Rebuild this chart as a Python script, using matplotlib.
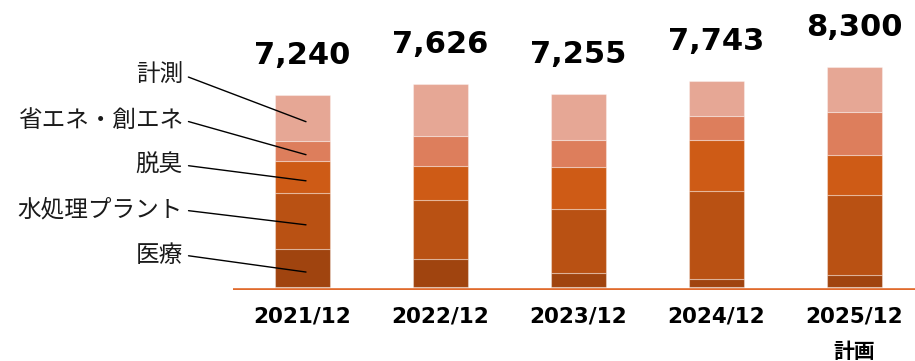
import matplotlib
matplotlib.use("Agg")
import matplotlib.pyplot as plt
import numpy as np

# ---- data ----
periods = ["2021/12", "2022/12", "2023/12", "2024/12", "2025/12"]
plan_note = "計画"
segments = ["医療", "水処理プラント", "脱臭", "省エネ・創エネ", "計測"]
iryo = [1450, 1070, 549, 301, 461]
mizu = [2100, 2223, 2383, 3308, 3027]
dasshu = [1209, 1255, 1601, 1917, 1485]
shoene = [755, 1142, 1004, 925, 1613]
keisoku = [1726, 1936, 1718, 1292, 1714]
totals = [7240, 7626, 7255, 7743, 8300]

colors = ["#A0440F", "#B95113", "#CE5B16", "#DD7E5C", "#E6A795"]
line_color = "#E06A2C"

plt.rcParams['font.family'] = ['DejaVu Sans', 'Noto Sans CJK JP']

W, H = 915, 361
fig = plt.figure(figsize=(W / 100, H / 100), dpi=100)
ax = fig.add_axes([233 / W, (H - 290) / H, (W - 233) / W, 290 / H])

x = np.arange(len(periods))
series = [iryo, mizu, dasshu, shoene, keisoku]
bottom = np.zeros(len(periods))
mids = []
for vals, c in zip(series, colors):
    vals = np.array(vals, dtype=float)
    ax.bar(x, vals, width=0.4, bottom=bottom, color=c,
           edgecolor=(1, 1, 1, 0.35), linewidth=0.8, zorder=2)
    mids.append(bottom[0] + vals[0] / 2)
    bottom = bottom + vals

ax.set_xlim(-0.504, 4.438)
ax.set_ylim(-100, 10802)
ax.axhline(-50, color=line_color, linewidth=1.9, zorder=3)

for spine in ax.spines.values():
    spine.set_visible(False)
ax.set_yticks([])
ax.set_xticks(x)
ax.set_xticklabels(periods, fontsize=15.5, fontweight='bold', color='#000000')
ax.tick_params(axis='x', length=0, pad=12)

# plan note below last label
ax.annotate(plan_note, xy=(x[-1], 0), xycoords='data',
            xytext=(0, -(351 - 287)), textcoords='offset pixels',
            ha='center', va='center', fontsize=15, fontweight='bold',
            family=['Noto Sans CJK JP'], color='#000000', annotation_clip=False)

# totals
for xi, t in zip(x, totals):
    ax.annotate(f"{t:,}", xy=(xi, t), xytext=(0, 31), textcoords='offset pixels',
                ha='center', va='baseline', fontsize=22, fontweight='bold',
                color='#000000')

# left callout labels
label_y = [255, 210, 165, 120, 75]
for name, m, ly in zip(segments, mids, label_y):
    ax.annotate(name, xy=(0.025, m - 150), xycoords='data',
                xytext=(183, H - ly), textcoords='figure pixels',
                ha='right', va='center', fontsize=17,
                family=['Noto Sans CJK JP', 'DejaVu Sans'], color='#1a1a1a',
                arrowprops=dict(arrowstyle='-', color='#000000', lw=1.0,
                                relpos=(1, 0.5), shrinkA=2, shrinkB=0),
                annotation_clip=False, zorder=4)

fig.savefig("out.png", dpi=100)
